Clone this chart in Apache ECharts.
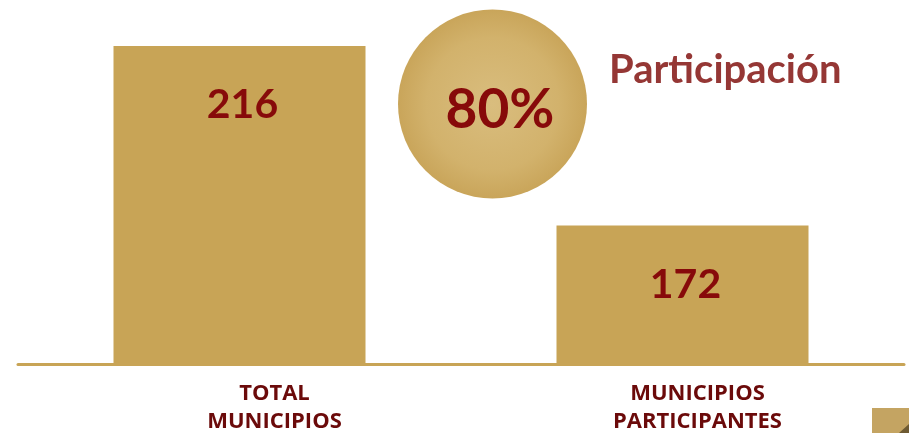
<!DOCTYPE html>
<html>
<head>
<meta charset="utf-8">
<script src="https://cdn.jsdelivr.net/npm/echarts@6/dist/echarts.min.js"></script>
<style>
  html, body { margin: 0; padding: 0; background: #ffffff; }
  #chart { width: 909px; height: 433px; }
</style>
</head>
<body>
<div id="chart"></div>
<script>
// datos
const categories = ['TOTAL\nMUNICIPIOS', 'MUNICIPIOS\nPARTICIPANTES'];
const values = [216, 172];
const titleText = 'Participación';

const gold = '#C8A456';
const darkRed = '#870A0A';

const pct = Math.round(values[1] / values[0] * 100) + '%';

// las etiquetas del eje no están centradas bajo las barras
const labelShift = [70, 30];

const myChart = echarts.init(document.getElementById('chart'));

const chartOptions = {
  animation: false,
  title: {
    text: titleText,
    left: 604,
    top: 45,
    textStyle: {
      color: '#953735',
      fontFamily: 'Lato',
      fontWeight: 'bold',
      fontSize: 40
    }
  },
  grid: { left: 18, right: 5, top: 46, bottom: 67.5 },
  xAxis: {
    type: 'category',
    data: categories,
    axisLine: { lineStyle: { color: gold, width: 3 } },
    axisTick: { show: false },
    axisLabel: {
      margin: 16,
      formatter: (value, idx) => value.split('\n').map(s => '{p' + idx + '|' + s + '}').join('\n'),
      rich: {
        p0: {
          color: '#6B0A0A', fontFamily: 'Open Sans', fontWeight: 'bold',
          fontSize: 22, lineHeight: 28, padding: [0, 0, 0, labelShift[0]]
        },
        p1: {
          color: '#6B0A0A', fontFamily: 'Open Sans', fontWeight: 'bold',
          fontSize: 22, lineHeight: 28, padding: [0, 0, 0, labelShift[1]]
        }
      }
    }
  },
  yAxis: {
    type: 'value',
    min: 138,
    max: 216,
    show: false
  },
  series: [
    {
      type: 'bar',
      data: values,
      barWidth: 252,
      itemStyle: { color: gold },
      label: {
        show: true,
        position: ['50%', 59],
        align: 'center',
        verticalAlign: 'middle',
        offset: [3, 0],
        color: darkRed,
        fontFamily: 'Lato',
        fontWeight: 'bold',
        fontSize: 41
      }
    }
  ],
  graphic: [
    {
      type: 'circle',
      shape: { cx: 492.5, cy: 104, r: 94.5 },
      style: {
        fill: new echarts.graphic.RadialGradient(0.5, 0.5, 0.5, [
          { offset: 0, color: '#D9BD7E' },
          { offset: 0.7, color: '#D2B26C' },
          { offset: 1, color: '#C9A55A' }
        ])
      },
      z: 10
    },
    {
      type: 'text',
      x: 500,
      y: 110,
      style: {
        text: pct,
        align: 'center',
        verticalAlign: 'middle',
        fill: darkRed,
        fontFamily: 'Lato',
        fontWeight: 'bold',
        fontSize: 55
      },
      z: 11
    },
    {
      type: 'rect',
      shape: { x: 872, y: 408, width: 37, height: 25 },
      style: { fill: '#C4A462' },
      z: 10
    },
    {
      type: 'polygon',
      shape: { points: [[909, 424], [909, 433], [899, 433]] },
      style: { fill: '#6E5A32' },
      z: 11
    }
  ]
};

myChart.setOption(chartOptions);

window.addEventListener('resize', () => {
  myChart.resize();
});
</script>
</body>
</html>
